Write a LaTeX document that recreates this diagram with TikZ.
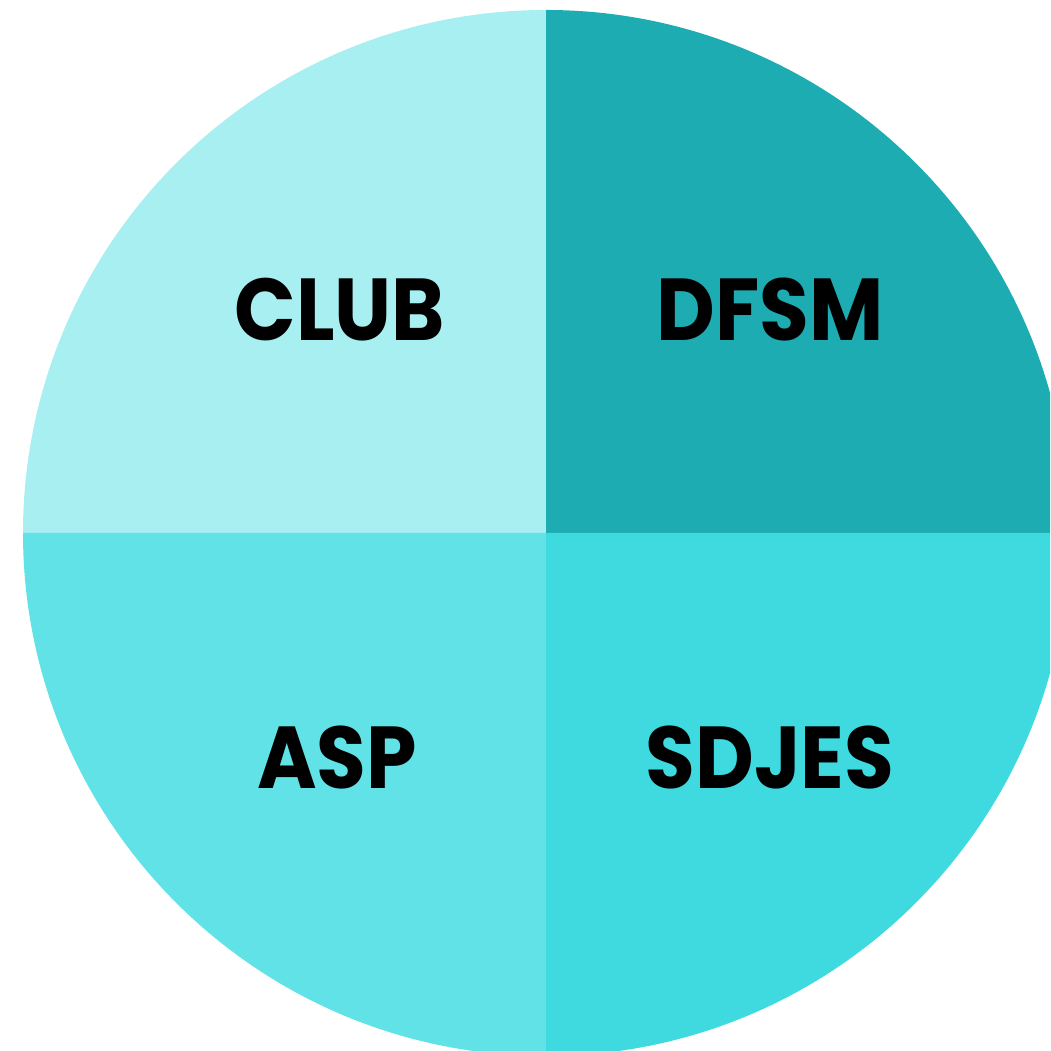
\documentclass[tikz,border=0pt]{standalone}
\usepackage{fontspec}
\setmainfont{Poppins}
\definecolor{clubcol}{HTML}{A8EFF2}
\definecolor{dfsmcol}{HTML}{1EACB3}
\definecolor{aspcol}{HTML}{60E2E7}
\definecolor{sdjescol}{HTML}{3FD9E0}
\tikzset{label text/.style={font=\fontsize{25}{30}\selectfont\bfseries, text=black, inner sep=0pt, xscale=0.92}}
\begin{document}
\begin{tikzpicture}
\useasboundingbox (0,0) rectangle (10.50,10.51);
\clip (0,0) rectangle (10.50,10.51);
\fill [clubcol] (5.46,5.18) -- (-5.23+5.46,5.18) arc (180:90:5.23) -- cycle;
\fill [dfsmcol] (5.46,5.18) -- (5.46,10.41) arc (90:0:5.23) -- cycle;
\fill [aspcol] (5.46,5.18) -- (5.46,-0.05) arc (270:180:5.23) -- cycle;
\fill [sdjescol] (5.46,5.18) -- (10.69,5.18) arc (0:-90:5.23) -- cycle;
\node [label text] (club) at (3.40,7.41) {CLUB};
\node [label text] (dfsm) at (7.70,7.41) {DFSM};
\node [label text] (asp) at (3.37,2.93) {ASP};
\node [label text] (sdjes) at (7.70,2.93) {SDJES};
\end{tikzpicture}
\end{document}
